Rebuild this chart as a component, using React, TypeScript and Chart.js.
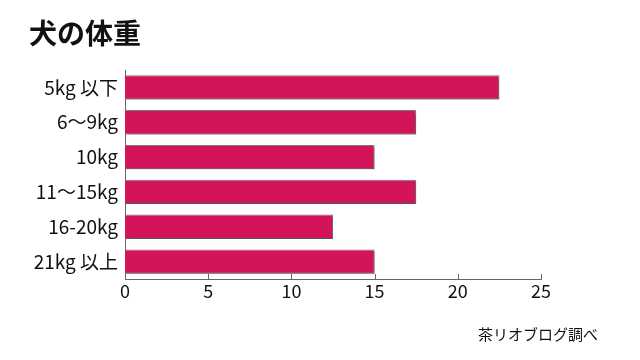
import React, { useEffect, useRef } from "react";
import { Chart, registerables } from "chart.js";

Chart.register(...registerables);

const TITLE = "犬の体重";
const SOURCE = "茶リオブログ調べ";
const categories = ["5kg 以下", "6〜9kg", "10kg", "11〜15kg", "16-20kg", "21kg 以上"];
const dogCounts = [22.5, 17.5, 15, 17.5, 12.5, 15];
const xMin = 0;
const xMax = 25;
const xStep = 5;

const FONT = "'Noto Sans CJK JP', 'Noto Sans', sans-serif";

export default function App() {
  const ref = useRef<HTMLCanvasElement | null>(null);

  useEffect(() => {
    const canvas = ref.current;
    if (!canvas) return;

    const textPlugin = {
      id: "texts",
      afterDraw(chart: any) {
        const ctx = chart.ctx;
        ctx.save();
        ctx.fillStyle = "#111";
        ctx.textBaseline = "middle";
        ctx.textAlign = "left";
        ctx.font = `bold 28px ${FONT}`;
        ctx.fillText(TITLE, 29, 33);
        ctx.font = `15px ${FONT}`;
        ctx.textAlign = "right";
        ctx.fillText(SOURCE, 598, 334);
        // x tick marks pointing up into the plot
        const xs = chart.scales.x;
        const bottom = chart.chartArea.bottom;
        ctx.strokeStyle = "#666";
        ctx.lineWidth = 1;
        xs.ticks.forEach((_t: any, i: number) => {
          const x = Math.round(xs.getPixelForTick(i)) + 0.5;
          ctx.beginPath();
          ctx.moveTo(x, bottom);
          ctx.lineTo(x, bottom - 5);
          ctx.stroke();
        });
        ctx.restore();
      },
    };

    const shadowPlugin = {
      id: "barShadow",
      beforeDatasetsDraw(chart: any) {
        const ctx = chart.ctx;
        ctx.save();
        ctx.shadowColor = "rgba(0,0,0,0.3)";
        ctx.shadowOffsetX = 1;
        ctx.shadowOffsetY = 2;
        ctx.shadowBlur = 1;
      },
      afterDatasetsDraw(chart: any) {
        chart.ctx.restore();
      },
    };

    const chart = new Chart(canvas, {
      type: "bar",
      data: {
        labels: categories,
        datasets: [
          {
            data: dogCounts,
            backgroundColor: "#D4145A",
            borderColor: "#7a7a7a",
            borderWidth: 1,
            categoryPercentage: 1,
            barPercentage: 0.7,
          },
        ],
      },
      options: {
        indexAxis: "y",
        responsive: false,
        animation: false,
        devicePixelRatio: 1,
        layout: { padding: { left: 20, right: 99, top: 70, bottom: 0 } },
        plugins: {
          legend: { display: false },
          tooltip: { enabled: false },
          title: { display: false },
        },
        scales: {
          x: {
            min: xMin,
            max: xMax,
            ticks: {
              stepSize: xStep,
              color: "#111",
              font: { family: FONT, size: 18 },
              padding: 1,
              maxRotation: 0,
            },
            grid: { display: false, drawTicks: false },
            border: { display: true, color: "#666", width: 1 },
            afterFit(scale: any) {
              scale.height = 81;
            },
          },
          y: {
            ticks: {
              color: "#111",
              font: { family: FONT, size: 19 },
              padding: 7,
            },
            grid: { display: false, drawTicks: false },
            border: { display: true, color: "#666", width: 1 },
            afterFit(scale: any) {
              scale.width = 105;
            },
          },
        },
      },
      plugins: [shadowPlugin, textPlugin],
    });

    return () => chart.destroy();
  }, []);

  return (
    <div style={{ position: "fixed", left: 0, top: 0, width: 640, height: 360, background: "#fff" }}>
      <canvas ref={ref} width={640} height={360} style={{ width: 640, height: 360, display: "block" }} />
    </div>
  );
}
